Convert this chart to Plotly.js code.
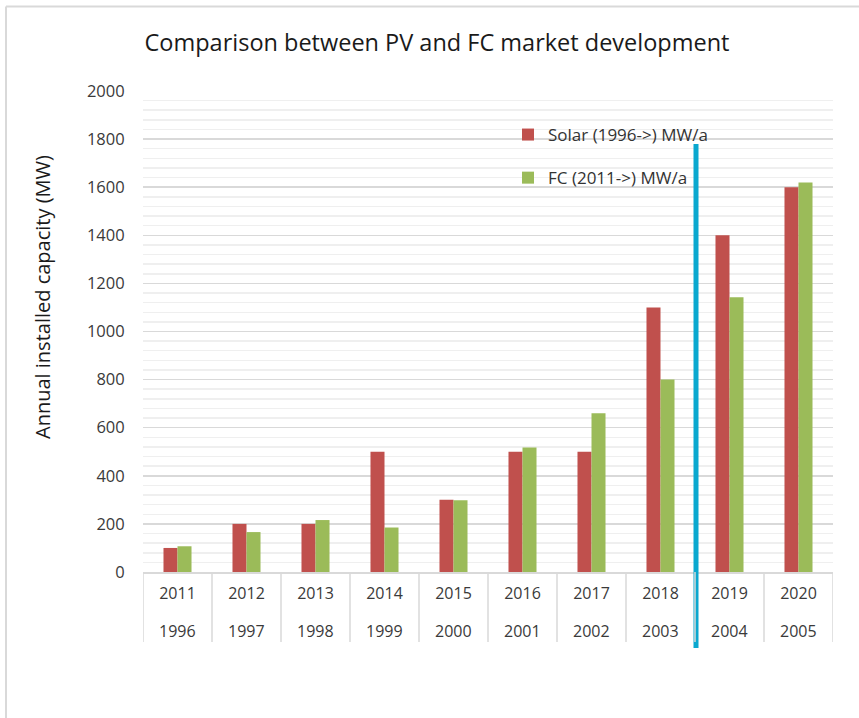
<!DOCTYPE html>
<html>
<head>
<meta charset="utf-8">
<script src="https://cdn.plot.ly/plotly-3.0.1.min.js"></script>
<style>html,body{margin:0;padding:0;background:#fff;}#chart{width:859px;height:718px;}</style>
</head>
<body>
<div id="chart"></div>
<script>
// Data
const fcYears    = ["2011","2012","2013","2014","2015","2016","2017","2018","2019","2020"];
const solarYears = ["1996","1997","1998","1999","2000","2001","2002","2003","2004","2005"];
const solarMW = [100, 200, 200, 500, 300, 500, 500, 1100, 1400, 1600];
const fcMW    = [107, 166, 216, 185, 298, 518, 660, 800, 1142, 1620];
const seriesNames = ["Solar (1996->) MW/a", "FC (2011->) MW/a"];
const yTicks = [0, 200, 400, 600, 800, 1000, 1200, 1400, 1600, 1800, 2000];

const W = 859, H = 718;
const L = 143, R = 833, T = 91, B = 572;
const px = v => (v - L) / (R - L);
const py = v => (B - v) / (B - T);

const font = "'Open Sans', 'Noto Sans', sans-serif";
const tickColor = "#3a3a3a";
const grid = "#D9D9D9";
const nCat = fcYears.length;

const traces = [
  {type:"bar", name:seriesNames[0], x:fcYears, y:solarMW, marker:{color:"#C0504D"}, legendgroup:"a"},
  {type:"bar", name:seriesNames[1], x:fcYears, y:fcMW, marker:{color:"#9BBB59"}, legendgroup:"b"}
];

// second category row (start years of solar series), placed at category index
const secondRow = solarYears.map((t, i) => ({
  xref: "x", yref: "paper", x: i, y: py(631), yanchor: "middle", xanchor: "center",
  text: t, showarrow: false, font: {family: font, size: 16, color: tickColor}
}));

// table separators under the axis, at category boundaries
const separators = [];
for (let i = 0; i <= nCat; i++) {
  separators.push({type: "line", xref: "x", yref: "paper", x0: i - 0.5, x1: i - 0.5,
    y0: py(572), y1: py(642), line: {color: grid, width: 1.5}});
}

const layout = {
  width: W, height: H,
  margin: {l: L, r: W - R, t: T, b: H - B},
  paper_bgcolor: "#fff", plot_bgcolor: "#fff",
  font: {family: font, color: tickColor, size: 16},
  title: {text: "Comparison between PV and FC market development",
          font: {family: font, size: 23.5, color: "#1a1a1a"},
          xref: "container", yref: "container", x: 437/W, y: 1 - 43/H,
          xanchor: "center", yanchor: "middle"},
  barmode: "group", bargap: 0.594, bargroupgap: 0,
  showlegend: true,
  legend: {x: px(508), y: py(117), xanchor: "left", yanchor: "top",
           bgcolor: "rgba(0,0,0,0)", font: {size: 17, color: "#333", family: font},
           traceorder: "grouped", tracegroupgap: 18, itemwidth: 30},
  xaxis: {type: "category", range: [-0.5, nCat - 0.5], autorange: false,
          categoryorder: "array", categoryarray: fcYears,
          showline: true, linecolor: grid, linewidth: 1.5,
          ticks: "outside", ticklen: 6, tickcolor: "rgba(0,0,0,0)",
          tickfont: {size: 16, color: tickColor, family: font},
          showgrid: false, fixedrange: true},
  yaxis: {range: [0, 2000], autorange: false, tickvals: yTicks, ticktext: yTicks.map(String),
          showgrid: true, gridcolor: grid, gridwidth: 1.5,
          minor: {dtick: 40, showgrid: true, gridcolor: "#EFEFEF", gridwidth: 1.5},
          zeroline: false, ticks: "outside", ticklen: 14, tickcolor: "rgba(0,0,0,0)",
          tickfont: {size: 16.5, color: tickColor, family: font},
          fixedrange: true},
  annotations: [
    {xref: "paper", yref: "paper", x: px(42), y: py(297), xanchor: "center", yanchor: "middle",
     text: "Annual installed capacity (MW)", textangle: -90, showarrow: false,
     font: {family: font, size: 20, color: "#1a1a1a"}}
  ].concat(secondRow),
  shapes: [
    // outer chart frame (top and left visible)
    {type: "line", xref: "paper", yref: "paper", x0: px(6), x1: px(859), y0: py(6.5), y1: py(6.5),
     line: {color: grid, width: 2}},
    {type: "line", xref: "paper", yref: "paper", x0: px(6), x1: px(6), y0: py(6.5), y1: py(718),
     line: {color: grid, width: 2}},
    // blue divider line
    {type: "line", xref: "paper", yref: "paper", x0: px(696), x1: px(696), y0: py(648), y1: py(144),
     line: {color: "#0AA8CF", width: 5}}
  ].concat(separators)
};

Plotly.newPlot("chart", traces, layout, {displayModeBar: false, staticPlot: true});
</script>
</body>
</html>
